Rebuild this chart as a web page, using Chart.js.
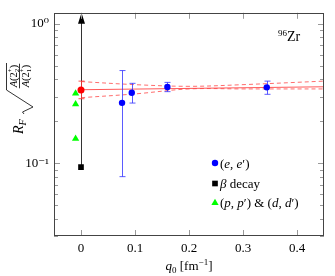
<!DOCTYPE html>
<html>
<head>
<meta charset="utf-8">
<script src="https://cdn.jsdelivr.net/npm/chart.js@4.4.1/dist/chart.umd.min.js"></script>
<style>
  html, body { margin:0; padding:0; background:#fff; }
  canvas { display:block; }
</style>
</head>
<body>
<canvas id="chart" width="335" height="276"></canvas>
<script>
// (e,e') data
const eeQ = [0.076, 0.094, 0.160, 0.344];
const eeVal = [0.271, 0.320, 0.352, 0.350];
const eeLo = [0.080, 0.270, 0.326, 0.312];
const eeHi = [0.462, 0.374, 0.380, 0.388];
// beta decay (lower limit)
const betaQ = [0];
const betaVal = [0.0937];
// (p,p') & (d,d')
const ppQ = [-0.01, -0.01, -0.01];
const ppVal = [0.317, 0.265, 0.150];
// extrapolated value at q0 = 0
const extQ = [0];
const extVal = [0.335];
const extLo = [0.290];
const extHi = [0.388];
// fit line and its band
const fitQ = [0, 0.45];
const fitVal = [0.3365, 0.3534];
const bandQ = [0, 0.1, 0.2, 0.3, 0.45];
const bandHi = [0.385, 0.366, 0.356, 0.366, 0.388];
const bandLo = [0.295, 0.314, 0.341, 0.341, 0.341];
// ticks
const xTicks = [0, 0.1, 0.2, 0.3, 0.4];
const yTicks = [0.03,0.04,0.05,0.06,0.07,0.08,0.09,0.1,0.2,0.3,0.4,0.5,0.6,0.7,0.8,0.9,1];
const yMajor = [0.1, 1];

const SERIF = '"Liberation Serif", "DejaVu Serif", serif';
Chart.defaults.font.family = SERIF;
Chart.defaults.font.size = 13;
Chart.defaults.color = '#000';

const pts = (xs, ys) => xs.map((x, i) => ({ x, y: ys[i] }));

// draw pieces of text one after another; {st:[sub,sup]} stacks scripts
function runs(ctx, x, y, parts, measureOnly) {
  const x0 = x;
  for (const p of parts) {
    if (p.st) {
      ctx.font = `${p.s || 7}px ${SERIF}`;
      const w1 = ctx.measureText(p.st[0]).width, w2 = ctx.measureText(p.st[1]).width;
      if (!measureOnly) { ctx.fillText(p.st[0], x, y + 2.5); ctx.fillText(p.st[1], x, y - 4.5); }
      x += Math.max(w1, w2);
      continue;
    }
    ctx.font = `${p.it ? 'italic ' : ''}${p.s || 13}px ${SERIF}`;
    if (!measureOnly) ctx.fillText(p.t, x, y + (p.dy || 0));
    x += ctx.measureText(p.t).width;
  }
  return x - x0;
}

const errorBars = {
  id: 'errorBars',
  beforeDatasetDraw(chart, args) {
    const ds = chart.data.datasets[args.index];
    const meta = args.meta, y = chart.scales.y, a = chart.chartArea, ctx = chart.ctx;
    ctx.save();
    if (ds.errLo) {
      ctx.strokeStyle = ds.errColor; ctx.lineWidth = 1;
      meta.data.forEach((el, i) => {
        const px = Math.round(el.x) + 0.5;
        const lo = y.getPixelForValue(ds.errLo[i]), hi = y.getPixelForValue(ds.errHi[i]);
        ctx.beginPath();
        ctx.moveTo(px, lo); ctx.lineTo(px, hi);
        ctx.moveTo(px - 3, lo); ctx.lineTo(px + 3, lo);
        ctx.moveTo(px - 3, hi); ctx.lineTo(px + 3, hi);
        ctx.stroke();
      });
    }
    if (ds.lowerLimit) {
      meta.data.forEach((el) => {
        const px = Math.round(el.x) + 0.5;
        ctx.strokeStyle = '#333'; ctx.lineWidth = 1;
        ctx.beginPath(); ctx.moveTo(px, el.y); ctx.lineTo(px, a.top + 8); ctx.stroke();
        ctx.fillStyle = '#000';
        ctx.beginPath(); ctx.moveTo(px, a.top); ctx.lineTo(px - 3.5, a.top + 11); ctx.lineTo(px + 3.5, a.top + 11); ctx.closePath(); ctx.fill();
      });
    }
    ctx.restore();
  }
};

const decor = {
  id: 'decor',
  afterDraw(chart) {
    const { ctx, chartArea: a, scales: { x, y } } = chart;
    ctx.save();
    // inward ticks
    ctx.strokeStyle = '#999'; ctx.lineWidth = 1;
    ctx.beginPath();
    x.ticks.forEach(t => {
      const px = Math.round(x.getPixelForValue(t.value)) + 0.5;
      ctx.moveTo(px, a.bottom); ctx.lineTo(px, a.bottom - 6);
      ctx.moveTo(px, a.top); ctx.lineTo(px, a.top + 6);
    });
    y.ticks.forEach(t => {
      const py = Math.round(y.getPixelForValue(t.value)) + 0.5;
      const len = yMajor.includes(t.value) ? 6 : 4;
      ctx.moveTo(a.left, py); ctx.lineTo(a.left + len, py);
      ctx.moveTo(a.right, py); ctx.lineTo(a.right - len, py);
    });
    ctx.stroke();
    ctx.strokeStyle = '#444';
    ctx.strokeRect(Math.round(a.left) + 0.5, Math.round(a.top) + 0.5, Math.round(a.width) - 1, Math.round(a.height) - 1);

    ctx.fillStyle = '#000';
    ctx.textBaseline = 'alphabetic';
    ctx.textAlign = 'left';
    // nucleus label
    runs(ctx, 278, 40.5, [{ t: '96', s: 9, dy: -5 }, { t: 'Zr', s: 14 }]);

    // x title
    const xt = [{ t: 'q', it: 1 }, { t: '0', s: 9, dy: 2.5 }, { t: ' [fm' }, { t: '−1', s: 9, dy: -5 }, { t: ']' }];
    const xw = runs(ctx, 0, 0, xt, true);
    runs(ctx, 189 - xw / 2, 270, xt);

    // legend
    const H = Chart.helpers;
    const leg = [
      { y: 163, style: 'circle', r: 3.2, c: '#0000ff', parts: [{ t: '(' }, { t: 'e', it: 1 }, { t: ', ' }, { t: 'e', it: 1 }, { t: '′' }, { t: ')' }] },
      { y: 183.5, style: 'rect', r: 4, c: '#000', parts: [{ t: 'β', it: 1 }, { t: ' decay' }] },
      { y: 202, style: 'triangle', r: 4.2, c: '#00ff00', parts: [{ t: '(' }, { t: 'p', it: 1 }, { t: ', ' }, { t: 'p', it: 1 }, { t: '′' }, { t: ') & (' }, { t: 'd', it: 1 }, { t: ', ' }, { t: 'd', it: 1 }, { t: '′' }, { t: ')' }] }
    ];
    leg.forEach(l => {
      ctx.fillStyle = l.c;
      H.drawPoint(ctx, { pointStyle: l.style, radius: l.r, rotation: 0, borderWidth: 0 }, 215, l.y + (l.style === 'triangle' ? 1 : 0));
      ctx.fillStyle = '#000';
      runs(ctx, 220, l.y + 4.5, l.parts);
    });

    // y title, rotated
    ctx.translate(0, 134);
    ctx.rotate(-Math.PI / 2);
    ctx.fillStyle = '#000';
    runs(ctx, 0, 23, [{ t: 'R', it: 1, s: 14 }, { t: 'F', it: 1, s: 10, dy: 2.5 }]);
    ctx.strokeStyle = '#000'; ctx.lineWidth = 0.8;
    ctx.beginPath();
    ctx.moveTo(20, 24); ctx.lineTo(22, 22.5); ctx.lineTo(27, 33); ctx.lineTo(44, 6.5); ctx.lineTo(71, 6.5);
    ctx.stroke();
    const num = [{ t: 'A', it: 1, s: 10.5 }, { t: '(2', s: 10.5 }, { st: ['2', '+'], s: 7 }, { t: ')', s: 10.5 }];
    const den = [{ t: 'A', it: 1, s: 10.5 }, { t: '(2', s: 10.5 }, { st: ['1', '+'], s: 7 }, { t: ')', s: 10.5 }];
    const nw = runs(ctx, 0, 0, num, true);
    const cx = 58;
    ctx.beginPath(); ctx.moveTo(cx - nw / 2 - 1, 19.5); ctx.lineTo(cx + nw / 2 + 1, 19.5); ctx.stroke();
    runs(ctx, cx - nw / 2, 16.5, num);
    runs(ctx, cx - nw / 2, 28.5, den);
    ctx.restore();
  }
};

const tickFont = { family: SERIF, size: 13 };

new Chart(document.getElementById('chart'), {
  type: 'scatter',
  data: {
    datasets: [
      { label: "(e,e')", data: pts(eeQ, eeVal), errLo: eeLo, errHi: eeHi, errColor: 'rgba(50,50,255,0.8)',
        pointStyle: 'circle', pointRadius: 3.2, backgroundColor: '#0000ff', borderWidth: 0 },
      { label: 'extrapolation', data: pts(extQ, extVal), errLo: extLo, errHi: extHi, errColor: 'rgba(255,50,50,0.85)',
        pointStyle: 'circle', pointRadius: 3.5, backgroundColor: '#ff0000', borderWidth: 0 },
      { label: 'β decay', data: pts(betaQ, betaVal), lowerLimit: true,
        pointStyle: 'rect', pointRadius: 4, backgroundColor: '#000', borderWidth: 0 },
      { label: "(p,p') & (d,d')", data: pts(ppQ, ppVal),
        pointStyle: 'triangle', pointRadius: 4.2, backgroundColor: '#00ff00', borderWidth: 0 },
      { label: 'fit', data: pts(fitQ, fitVal), showLine: true, borderColor: 'rgba(255,60,60,0.85)', borderWidth: 1, pointRadius: 0 },
      { label: 'band upper', data: pts(bandQ, bandHi), showLine: true, tension: 0.35, borderDash: [4, 3],
        borderColor: 'rgba(255,60,60,0.75)', borderWidth: 1, pointRadius: 0 },
      { label: 'band lower', data: pts(bandQ, bandLo), showLine: true, tension: 0.35, borderDash: [4, 3],
        borderColor: 'rgba(255,60,60,0.75)', borderWidth: 1, pointRadius: 0 }
    ]
  },
  options: {
    responsive: false,
    animation: false,
    devicePixelRatio: 1,
    layout: { padding: { top: 11, right: 11, left: 0, bottom: 0 } },
    plugins: { legend: { display: false }, tooltip: { enabled: false } },
    scales: {
      x: {
        type: 'linear', min: -0.05, max: 0.45,
        grid: { display: false, drawTicks: false }, border: { display: false },
        afterBuildTicks: s => { s.ticks = xTicks.map(v => ({ value: v })); },
        afterFit: s => { s.height = 40; },
        ticks: { autoSkip: false, maxRotation: 0, padding: 5, font: tickFont, color: '#000', callback: v => String(v) }
      },
      y: {
        type: 'logarithmic', min: 0.03, max: 1.2,
        grid: { display: false, drawTicks: false }, border: { display: false },
        afterBuildTicks: s => { s.ticks = yTicks.map(v => ({ value: v })); },
        afterFit: s => { s.width = 54; },
        ticks: { autoSkip: false, padding: 5, font: tickFont, color: '#000',
          callback: v => (v === 1 ? '10⁰' : v === 0.1 ? '10⁻¹' : '') }
      }
    }
  },
  plugins: [errorBars, decor]
});
</script>
</body>
</html>
